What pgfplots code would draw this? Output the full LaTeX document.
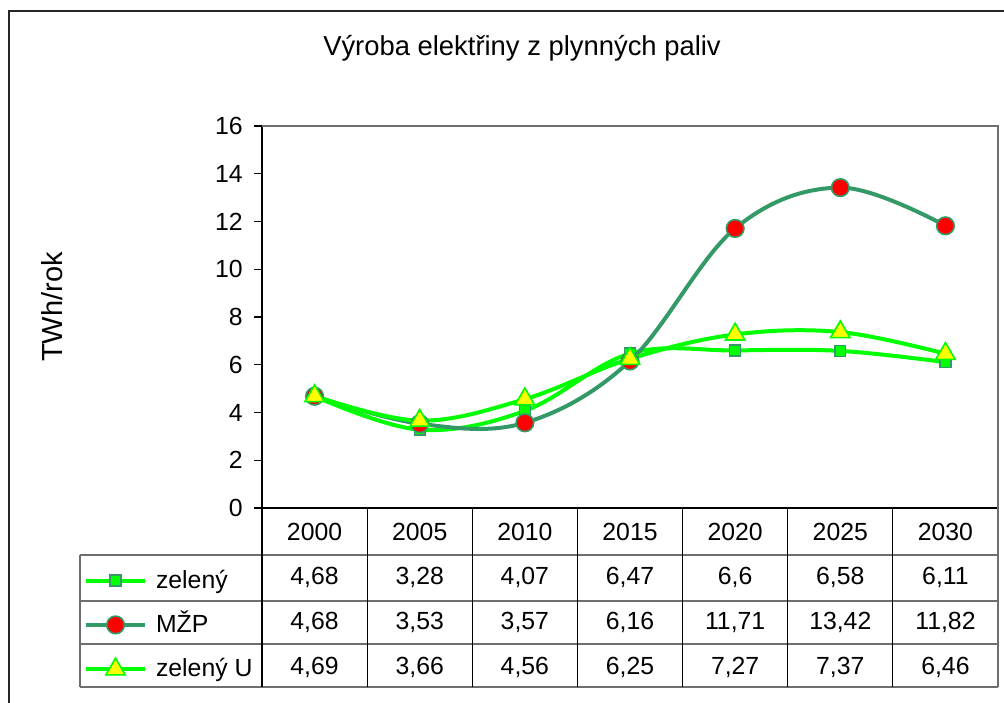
\documentclass[border=0pt]{standalone}
\usepackage{pgfplots}
\pgfplotsset{compat=1.18}
\usepackage{fontspec}
\setmainfont{Liberation Sans}
\definecolor{brgreen}{RGB}{0,255,0}
\definecolor{seagr}{RGB}{51,153,102}
\definecolor{ylw}{RGB}{255,255,0}
\definecolor{tblgray}{RGB}{110,110,110}

\begin{document}
\begin{tikzpicture}
\useasboundingbox (0,0) rectangle (502pt,-351pt);
\clip (0,0) rectangle (502pt,-351pt);
% chart frame
\draw[line width=1.1pt, black!85] (4.5pt,-360pt) -- (4.5pt,-5.5pt) -- (510pt,-5.5pt);
\node[font=\fontsize{13.7}{16}\selectfont] at (261pt,-24pt) {Výroba elektřiny z plynných paliv};
\node[rotate=90, font=\fontsize{14.5}{17}\selectfont] at (26pt,-153.5pt) {TWh/rok};

\begin{axis}[
    at={(131pt,-254pt)}, anchor=south west,
    scale only axis, width=368pt, height=191pt,
    xmin=-0.5, xmax=6.5,
    ymin=0, ymax=16,
    axis x line*=bottom, axis y line*=left,
    axis line style={line width=0.7pt, black},
    /pgf/number format/assume math mode=true,
    ytick={0,2,...,16},
    tick align=outside,
    major tick length=4pt,
    ytick style={line width=0.6pt, black},
    yticklabel style={anchor=east, inner sep=0pt, xshift=-5.5pt, font=\fontsize{12.4}{15}\selectfont},
    xtick={0,...,6},
    xtick style={draw=none},
    xticklabels={
      {2000\\4,68\\4,68\\4,69},
      {2005\\3,28\\3,53\\3,66},
      {2010\\4,07\\3,57\\4,56},
      {2015\\6,47\\6,16\\6,25},
      {2020\\6,6\\11,71\\7,27},
      {2025\\6,58\\13,42\\7,37},
      {2030\\6,11\\11,82\\6,46}},
    xticklabel style={align=center, anchor=north, inner sep=0pt, yshift=-3.2pt,
      font=\fontsize{12.4}{22.35}\selectfont},
    clip=false,
    legend cell align=left,
    legend style={at={(rel axis cs:-0.2418,-0.1518)}, anchor=north west,
      draw=none, fill=none, inner sep=0pt, outer sep=0pt,
      row sep=7.7pt, column sep=2.5pt,
      font=\fontsize{12.4}{15}\selectfont,
      cells={inner sep=0pt, text height=9pt, text depth=3pt}},
    legend image code/.code={
      \draw[mark repeat=2, mark phase=2, #1] plot coordinates {(0pt,0pt) (14.75pt,0pt) (29.5pt,0pt)};
    },
]
\addplot[brgreen, line width=2pt, smooth, tension=0.6, mark=square*, mark size=2.7pt,
  mark options={fill=brgreen, draw=seagr, line width=0.7pt}]
  coordinates {(0,4.68) (1,3.28) (2,4.07) (3,6.47) (4,6.6) (5,6.58) (6,6.11)};
\addlegendentry{zelený}
\addplot[seagr, line width=2pt, smooth, tension=0.6, mark=*, mark size=4.4pt,
  mark options={fill=red, draw=seagr, line width=0.8pt}]
  coordinates {(0,4.68) (1,3.53) (2,3.57) (3,6.16) (4,11.71) (5,13.42) (6,11.82)};
\addlegendentry{MŽP}
\addplot[brgreen, line width=2pt, smooth, tension=0.6, mark=triangle*, mark size=5.6pt,
  mark options={fill=ylw, draw=brgreen, line width=0.8pt}]
  coordinates {(0,4.69) (1,3.66) (2,4.56) (3,6.25) (4,7.27) (5,7.37) (6,6.46)};
\addlegendentry{zelený U}

% plot area top / right border and data table grid
\draw[tblgray, line width=0.6pt] (axis cs:-0.5,16) -- (axis cs:6.5,16) -- (axis cs:6.5,-7.497);
\draw[tblgray, line width=0.6pt] (axis cs:-2.231,-1.969) -- (axis cs:6.5,-1.969);
\draw[tblgray, line width=0.6pt] (axis cs:-2.231,-3.895) -- (axis cs:6.5,-3.895);
\draw[tblgray, line width=0.6pt] (axis cs:-2.231,-5.696) -- (axis cs:6.5,-5.696);
\draw[tblgray, line width=0.6pt] (axis cs:-2.231,-7.497) -- (axis cs:6.5,-7.497);
\draw[tblgray, line width=0.6pt] (axis cs:-2.231,-1.969) -- (axis cs:-2.231,-7.497);
\draw[black, line width=0.6pt] (axis cs:-0.5,0) -- (axis cs:-0.5,-7.497);
\draw[black, line width=0.6pt] (axis cs:0.5,0) -- (axis cs:0.5,-7.497);
\draw[black, line width=0.6pt] (axis cs:1.5,0) -- (axis cs:1.5,-7.497);
\draw[black, line width=0.6pt] (axis cs:2.5,0) -- (axis cs:2.5,-7.497);
\draw[black, line width=0.6pt] (axis cs:3.5,0) -- (axis cs:3.5,-7.497);
\draw[black, line width=0.6pt] (axis cs:4.5,0) -- (axis cs:4.5,-7.497);
\draw[black, line width=0.6pt] (axis cs:5.5,0) -- (axis cs:5.5,-7.497);
\end{axis}
\end{tikzpicture}
\end{document}
